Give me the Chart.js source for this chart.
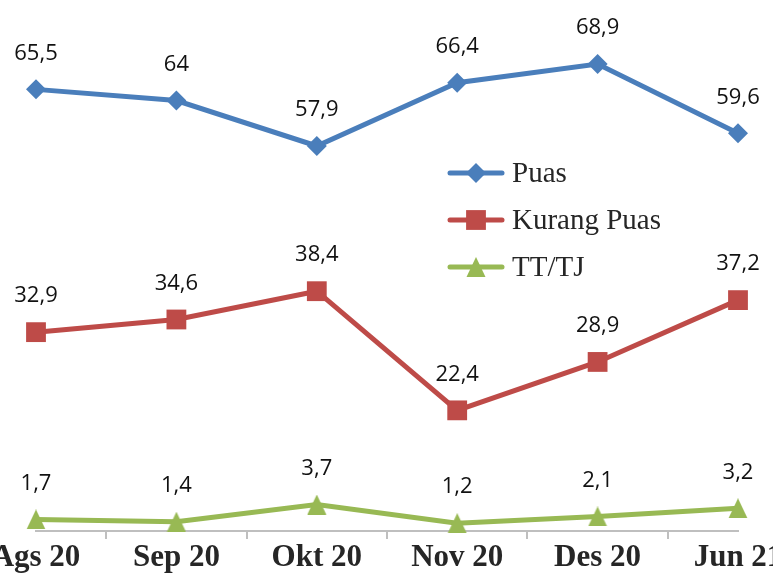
<!DOCTYPE html>
<html>
<head>
<meta charset="utf-8">
<script src="https://cdn.jsdelivr.net/npm/chart.js@4"></script>
<style>
    html, body { margin: 0; padding: 0; background: #fff; overflow: hidden; }
    #wrap { width: 773px; height: 575px; position: relative; }
</style>
</head>
<body>
<div id="wrap"><canvas id="chart"></canvas></div>
<script>
const months = ['Ags 20', 'Sep 20', 'Okt 20', 'Nov 20', 'Des 20', 'Jun 21'];
const puas = [65.5, 64, 57.9, 66.4, 68.9, 59.6];
const kurangPuas = [32.9, 34.6, 38.4, 22.4, 28.9, 37.2];
const ttTj = [1.7, 1.4, 3.7, 1.2, 2.1, 3.2];

const seriesNames = ['Puas', 'Kurang Puas', 'TT/TJ'];
const seriesColors = ['#4a7ebb', '#be4b48', '#98b954'];
const pointSizes = [10, 14, 10];

// Excel-style triangle marker (centred on its box, not its centroid)
function makeTriangle(color) {
    const c = document.createElement('canvas');
    c.width = 20;
    c.height = 20;
    const g = c.getContext('2d');
    g.fillStyle = color;
    g.beginPath();
    g.moveTo(10, 0);
    g.lineTo(19.5, 20);
    g.lineTo(0.5, 20);
    g.closePath();
    g.fill();
    return c;
}

const seriesPoints = ['rectRot', 'rect', makeTriangle(seriesColors[2])];

// values above each point, with comma decimals
const valueLabels = {
    id: 'valueLabels',
    afterDatasetsDraw(chart) {
        const ctx = chart.ctx;
        ctx.save();
        ctx.font = '22px "Open Sans"';
        ctx.fillStyle = '#111';
        ctx.textAlign = 'center';
        ctx.textBaseline = 'middle';
        chart.data.datasets.forEach((ds, i) => {
            chart.getDatasetMeta(i).data.forEach((pt, j) => {
                ctx.fillText(String(ds.data[j]).replace('.', ','), pt.x, pt.y - 36);
            });
        });
        ctx.restore();
    }
};

// legend with line + marker, sitting inside the plot on the right
const lineLegend = {
    id: 'lineLegend',
    afterDraw(chart) {
        const ctx = chart.ctx;
        ctx.save();
        chart.data.datasets.forEach((ds, i) => {
            const y = 173 + i * 47;
            ctx.strokeStyle = ds.borderColor;
            ctx.lineWidth = 5;
            ctx.lineCap = 'round';
            ctx.beginPath();
            ctx.moveTo(450, y);
            ctx.lineTo(502, y);
            ctx.stroke();
            ctx.fillStyle = ds.borderColor;
            Chart.helpers.drawPoint(ctx, {
                pointStyle: ds.pointStyle,
                radius: ds.pointRadius,
                borderWidth: 0,
                rotation: 0
            }, 476, y);
            ctx.fillStyle = '#262626';
            ctx.font = '29px "Liberation Serif"';
            ctx.textAlign = 'left';
            ctx.textBaseline = 'middle';
            ctx.fillText(ds.label, 512, y + 1);
        });
        ctx.restore();
    }
};

const allData = [puas, kurangPuas, ttTj];

new Chart(document.getElementById('chart'), {
    type: 'line',
    data: {
        labels: months,
        datasets: allData.map((vals, i) => ({
            label: seriesNames[i],
            data: vals,
            yAxisID: i === 2 ? 'y2' : 'y',
            borderColor: seriesColors[i],
            backgroundColor: seriesColors[i],
            borderWidth: 5,
            tension: 0,
            pointStyle: seriesPoints[i],
            pointRadius: pointSizes[i],
            pointBorderWidth: 0,
            pointBackgroundColor: seriesColors[i],
            clip: false
        }))
    },
    options: {
        responsive: true,
        maintainAspectRatio: false,
        animation: false,
        layout: { autoPadding: false, padding: { left: 36, right: 35, top: 0, bottom: 0 } },
        plugins: {
            legend: { display: false },
            tooltip: { enabled: false }
        },
        scales: {
            x: {
                offset: false,
                afterFit(scale) {
                    scale.paddingLeft = 0;
                    scale.paddingRight = 0;
                    scale.height = 44;
                },
                grid: {
                    offset: true,
                    drawOnChartArea: false,
                    drawTicks: true,
                    tickLength: 8,
                    color: '#bfbfbf',
                    lineWidth: 2
                },
                border: { color: '#bfbfbf', width: 2 },
                ticks: {
                    color: '#262626',
                    padding: 2,
                    maxRotation: 0,
                    autoSkip: false,
                    font: { family: 'Liberation Serif', size: 31, weight: 'bold', lineHeight: 1.1 }
                }
            },
            y: { display: false, min: 6.2, max: 77.5 },
            y2: { display: false, min: 0.15, max: 71.45 }
        }
    },
    plugins: [valueLabels, lineLegend]
});
</script>
</body>
</html>
